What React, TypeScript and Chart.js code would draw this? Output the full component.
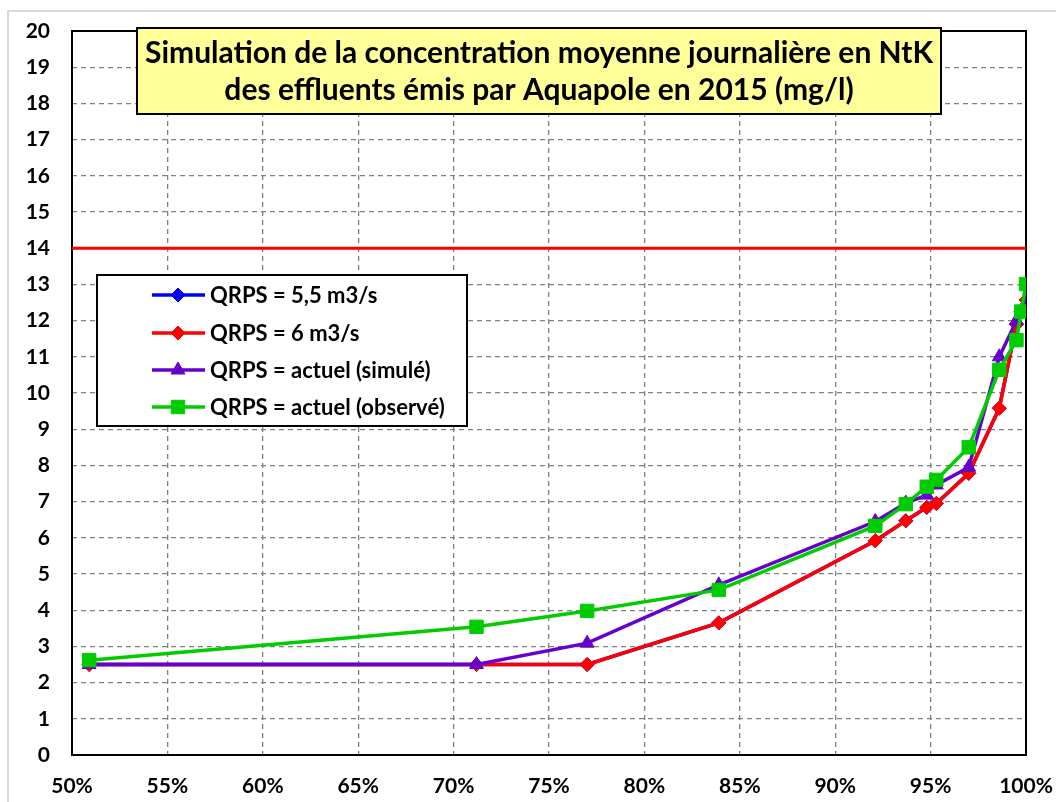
import React, { useEffect, useRef } from 'react';
import { Chart, registerables } from 'chart.js';

Chart.register(...registerables);

// Fréquence cumulée (%)
const xPercent = [50.9, 71.2, 77.0, 83.9, 92.1, 93.7, 94.8, 95.3, 97.0, 98.6, 99.5, 99.75, 100];
// Concentrations NtK (mg/l)
const qrps55 = [2.5, 2.5, 2.5, 3.65, 5.92, 6.47, 6.84, 6.95, 7.78, 9.58, 11.9, 12.25, 12.57];
const qrps6 = [2.5, 2.5, 2.5, 3.65, 5.92, 6.47, 6.84, 6.95, 7.78, 9.58, 11.9, 12.25, 12.57];
const actuelSimule = [2.5, 2.5, 3.09, 4.7, 6.45, 6.96, 7.18, 7.46, 7.95, 11.0, 12.0, 12.2, 12.5];
const actuelObserve = [2.62, 3.54, 3.98, 4.56, 6.33, 6.93, 7.41, 7.6, 8.5, 10.64, 11.46, 12.25, 13.01];
const seuilX = [50, 100];
const seuilY = [14, 14];

const titleLines = [
  'Simulation de la concentration moyenne journalière en NtK',
  'des effluents émis par Aquapole en 2015 (mg/l)',
];
const seriesLabels = [
  'QRPS = 5,5 m3/s',
  'QRPS = 6 m3/s',
  'QRPS = actuel (simulé)',
  'QRPS = actuel (observé)',
];
const seriesColors = ['#0000FF', '#FF0000', '#6600CC', '#00CC00'];
const seriesMarkers = ['rectRot', 'rectRot', 'triangle', 'rect'];
const seriesRadius = [7, 7, 8, 9.5];

const FONT = 'Lato, "Open Sans", sans-serif';

const toPoints = (xs: number[], ys: number[]) => xs.map((x, i) => ({ x, y: ys[i] }));

function drawMarker(ctx: CanvasRenderingContext2D, style: string, r: number, x: number, y: number) {
  ctx.beginPath();
  if (style === 'rectRot') {
    ctx.moveTo(x, y - r);
    ctx.lineTo(x + r, y);
    ctx.lineTo(x, y + r);
    ctx.lineTo(x - r, y);
  } else if (style === 'triangle') {
    const s = (r * Math.sqrt(3)) / 2;
    ctx.moveTo(x, y - r);
    ctx.lineTo(x + s, y + r / 2);
    ctx.lineTo(x - s, y + r / 2);
  } else {
    const s = Math.SQRT1_2 * r;
    ctx.rect(x - s, y - s, 2 * s, 2 * s);
  }
  ctx.closePath();
  ctx.fill();
  ctx.stroke();
}

const decorPlugin = {
  id: 'decor',
  beforeDraw(chart: any) {
    const ctx = chart.ctx;
    ctx.save();
    ctx.strokeStyle = '#d9d9d9';
    ctx.lineWidth = 2;
    ctx.strokeRect(8, 11, 1200, 1000);
    ctx.restore();
  },
  beforeDatasetsDraw(chart: any) {
    const { ctx, chartArea } = chart;
    ctx.save();
    ctx.strokeStyle = '#000';
    ctx.lineWidth = 2;
    ctx.strokeRect(chartArea.left, chartArea.top, chartArea.right - chartArea.left, chartArea.bottom - chartArea.top);
    ctx.restore();
  },
  afterDraw(chart: any) {
    const ctx = chart.ctx;
    ctx.save();
    // Title box
    ctx.fillStyle = '#FFFF99';
    ctx.fillRect(137, 28, 804, 86);
    ctx.strokeStyle = '#000';
    ctx.lineWidth = 2;
    ctx.strokeRect(137, 28, 804, 86);
    ctx.fillStyle = '#000';
    ctx.font = `bold 30px ${FONT}`;
    ctx.textAlign = 'center';
    ctx.textBaseline = 'alphabetic';
    ctx.fillText(titleLines[0], 539, 63);
    ctx.fillText(titleLines[1], 539, 100);

    // Legend box
    ctx.fillStyle = '#fff';
    ctx.fillRect(97, 275, 370, 151);
    ctx.strokeRect(97, 275, 370, 151);
    const rows = [295, 333, 370, 407];
    ctx.font = `bold 22px ${FONT}`;
    ctx.textAlign = 'left';
    ctx.textBaseline = 'middle';
    rows.forEach((ry, i) => {
      ctx.strokeStyle = seriesColors[i];
      ctx.lineWidth = 3.5;
      ctx.beginPath();
      ctx.moveTo(152, ry);
      ctx.lineTo(205, ry);
      ctx.stroke();
      ctx.fillStyle = seriesColors[i];
      ctx.lineWidth = 1;
      drawMarker(ctx, seriesMarkers[i], seriesRadius[i], 178, ry);
      ctx.fillStyle = '#000';
      ctx.fillText(seriesLabels[i], 210, ry + 1);
    });
    ctx.restore();
  },
};

export default function App() {
  const ref = useRef<HTMLCanvasElement | null>(null);
  useEffect(() => {
    if (!ref.current) return;
    const seriesData = [qrps55, qrps6, actuelSimule, actuelObserve];
    const datasets: any[] = seriesData.map((ys, i) => ({
      label: seriesLabels[i],
      data: toPoints(xPercent, ys),
      borderColor: seriesColors[i],
      backgroundColor: seriesColors[i],
      borderWidth: 3.5,
      pointStyle: seriesMarkers[i],
      pointRadius: seriesRadius[i],
      pointBorderWidth: 1,
      pointBackgroundColor: seriesColors[i],
      pointBorderColor: seriesColors[i],
      tension: 0,
      order: 5 - i,
    }));
    datasets.push({
      label: 'Seuil',
      data: toPoints(seuilX, seuilY),
      borderColor: '#FF0000',
      borderWidth: 3,
      pointRadius: 0,
      order: 6,
    });
    const gridCommon = {
      color: '#808080',
      lineWidth: 1.3,
      drawTicks: false,
      borderDash: [5, 4],
    };
    const tickFont = { family: FONT, size: 21, weight: 'bold' as const };
    const chart = new Chart(ref.current, {
      type: 'line',
      data: { datasets },
      plugins: [decorPlugin],
      options: {
        animation: false,
        responsive: false,
        layout: { padding: { top: 31, right: 30, left: 0, bottom: 0 } },
        plugins: { legend: { display: false }, tooltip: { enabled: false }, title: { display: false } },
        scales: {
          x: {
            type: 'linear',
            min: 50,
            max: 100,
            grid: gridCommon as any,
            border: { display: false, dash: [5, 4] },
            ticks: {
              stepSize: 5,
              padding: 19,
              color: '#000',
              font: tickFont,
              maxRotation: 0,
              autoSkip: false,
              callback: (v: any) => `${v}%`,
            },
            afterFit: (s: any) => {
              s.height = 47;
              s.paddingLeft = 0;
              s.paddingRight = 0;
            },
          },
          y: {
            min: 0,
            max: 20,
            grid: gridCommon as any,
            border: { display: false, dash: [5, 4] },
            ticks: {
              stepSize: 1,
              padding: 22,
              color: '#000',
              font: tickFont,
            },
            afterFit: (s: any) => {
              s.width = 72;
              s.paddingTop = 0;
              s.paddingBottom = 0;
            },
          },
        },
      },
    });
    return () => chart.destroy();
  }, []);
  return (
    <div style={{ position: 'fixed', left: 0, top: 0, width: 1056, height: 802, background: '#fff' }}>
      <canvas ref={ref} width={1056} height={802} style={{ display: 'block' }} />
    </div>
  );
}
